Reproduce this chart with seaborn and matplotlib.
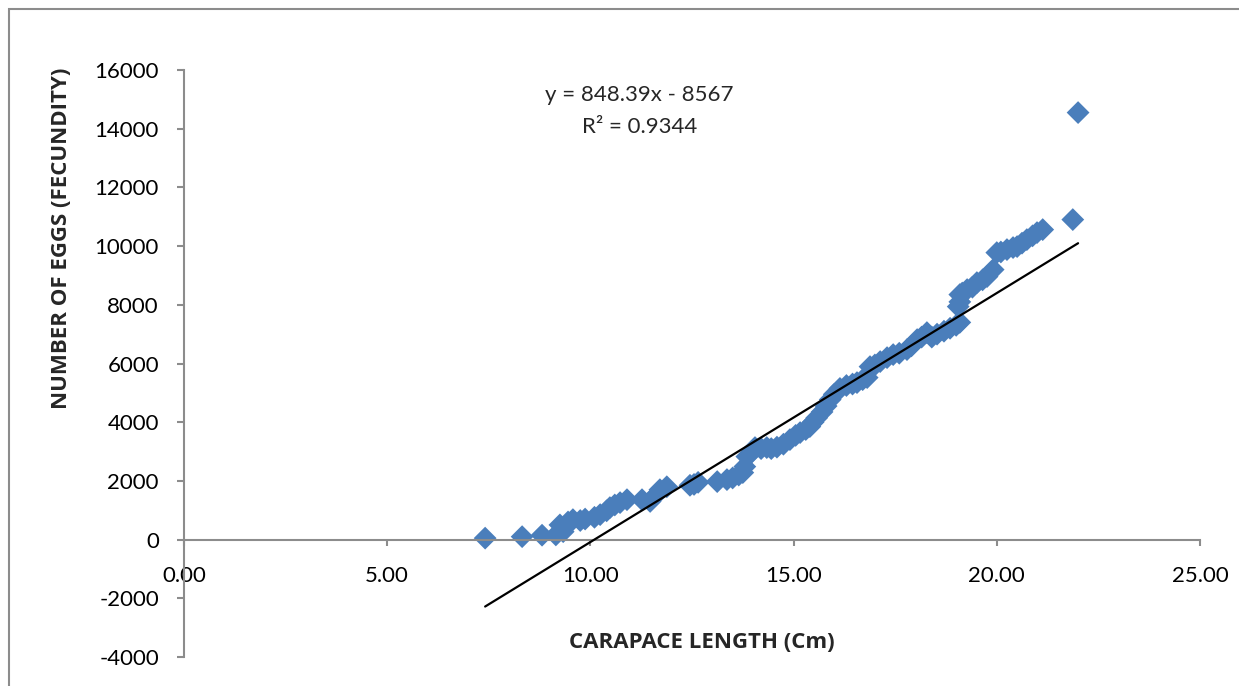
import matplotlib
matplotlib.use("Agg")
import matplotlib.pyplot as plt
import matplotlib.patches as patches
import numpy as np
import pandas as pd
import seaborn as sns

# carapace length (cm) and egg count
length_cm = [7.41, 8.32, 8.81, 9.15, 9.25, 9.33, 9.45, 9.57, 9.75, 9.87,
             10.10, 10.24, 10.40, 10.48, 10.60, 10.73, 10.90, 11.27, 11.47, 11.60,
             11.71, 11.88, 12.45, 12.55, 12.65, 13.12, 13.36, 13.50, 13.65, 13.75,
             13.80, 13.85, 13.95, 14.05, 14.20, 14.34, 14.45, 14.59, 14.75, 14.91,
             15.05, 15.16, 15.30, 15.40, 15.48, 15.57, 15.70, 15.80, 15.90, 16.00,
             16.14, 16.30, 16.45, 16.56, 16.70, 16.81, 16.88, 17.00, 17.13, 17.30,
             17.45, 17.60, 17.79, 17.90, 18.04, 18.15, 18.28, 18.40, 18.53, 18.70,
             18.85, 19.00, 19.09, 19.05, 19.09, 19.09, 19.15, 19.27, 19.40, 19.51,
             19.65, 19.76, 19.91, 20.00, 20.10, 20.25, 20.40, 20.50, 20.62, 20.74,
             20.88, 20.99, 21.13, 21.87, 22.00]
eggs = [50, 100, 150, 160, 500, 270, 600, 680, 650, 700,
        760, 850, 980, 1090, 1180, 1260, 1360, 1360, 1300, 1500,
        1700, 1800, 1850, 1880, 1950, 1976, 2044, 2100, 2200, 2283,
        2487, 2828, 2950, 3135, 3100, 3135, 3100, 3150, 3250, 3407,
        3550, 3646, 3750, 3850, 4000, 4150, 4350, 4550, 4770, 4950,
        5150, 5250, 5300, 5349, 5450, 5520, 5894, 5950, 6065, 6200,
        6303, 6350, 6473, 6600, 6814, 6900, 7053, 6900, 7000, 7100,
        7200, 7300, 7400, 7939, 8100, 8348, 8400, 8518, 8600, 8756,
        8850, 8961, 9199, 9778, 9800, 9881, 9950, 9983, 10100, 10221,
        10350, 10460, 10562, 10903, 14549]

slope = 848.39
intercept = -8567
r_squared = 0.9344

x_ticks = [0, 5, 10, 15, 20, 25]
y_ticks = [-4000, -2000, 0, 2000, 4000, 6000, 8000, 10000, 12000, 14000, 16000]

df = pd.DataFrame({"length": length_cm, "eggs": eggs})
x_line = np.array([min(length_cm), max(length_cm)])
trend = pd.DataFrame({"length": x_line, "eggs": slope * x_line + intercept})

sns.set_theme(style="white")
plt.rcParams["font.family"] = ["Lato", "DejaVu Sans"]

fig = plt.figure(figsize=(12.39, 6.86), dpi=100)
ax = fig.add_axes([184 / 1239, 1 - 657 / 686, 1016 / 1239, 587 / 686])

# outer chart border (runs off the right and bottom edges)
fig.patches.append(patches.Rectangle((9 / 1239, -0.2), 1.2, 1.2 - 9 / 686,
                                     transform=fig.transFigure, fill=False,
                                     edgecolor="#8c8c8c", linewidth=1.5))

sns.scatterplot(data=df, x="length", y="eggs", marker="D", s=135,
                color="#4a7ebb", edgecolor="none", ax=ax, zorder=2)
sns.lineplot(data=trend, x="length", y="eggs", color="black", linewidth=1.6,
             ax=ax, zorder=3)

ax.set_xlim(0, 25)
ax.set_ylim(-4000, 16000)
ax.set_xticks(x_ticks)
ax.set_xticklabels([f"{v:.2f}" for v in x_ticks])
ax.set_yticks(y_ticks)
ax.set_yticklabels([str(v) for v in y_ticks])

ax.spines["top"].set_visible(False)
ax.spines["right"].set_visible(False)
ax.spines["bottom"].set_position(("data", 0))
for s in ("left", "bottom"):
    ax.spines[s].set_color("#8c8c8c")
    ax.spines[s].set_linewidth(1.5)

ax.tick_params(axis="y", direction="out", length=5, width=1.5, color="#8c8c8c",
               labelsize=16, pad=13, left=True)
ax.tick_params(axis="x", direction="out", length=4, width=1.5, color="#8c8c8c",
               labelsize=16, pad=15, bottom=True)
for lab in ax.get_xticklabels() + ax.get_yticklabels():
    lab.set_color("black")

bold = dict(family=["Open Sans", "DejaVu Sans"], fontsize=16, fontweight="bold")
ax.set_xlabel("CARAPACE LENGTH (Cm)", va="center", **bold)
ax.set_ylabel("NUMBER OF EGGS (FECUNDITY)", va="center", **bold)
ax.xaxis.set_label_coords(0.51, 0.024)
ax.yaxis.set_label_coords(-0.121, 0.714)

ax.text(11.2, 15150, f"y = {slope}x - {abs(intercept)}", fontsize=16,
        ha="center", va="center")
ax.text(11.2, 14050, f"R² = {r_squared}", fontsize=16, ha="center", va="center")

fig.savefig("out.png", dpi=100)
